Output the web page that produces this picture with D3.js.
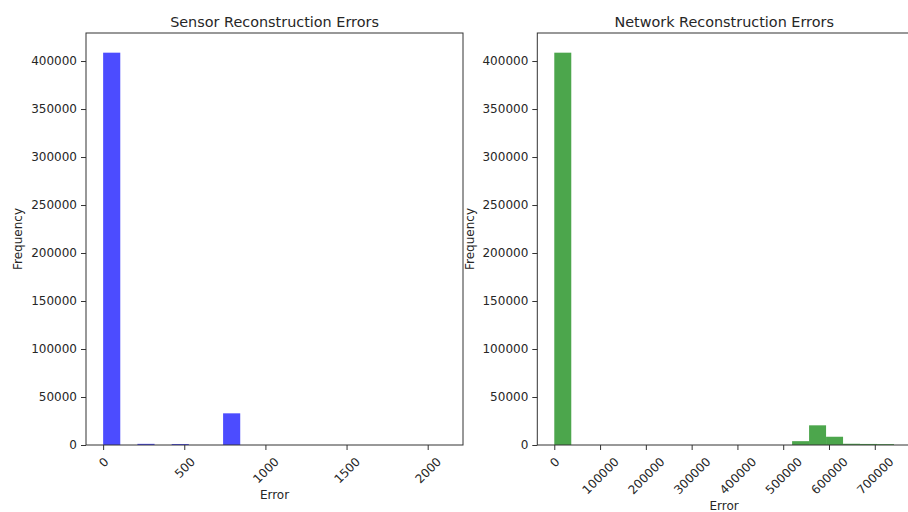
<!DOCTYPE html>
<html><head><meta charset="utf-8">
<script src="https://cdn.jsdelivr.net/npm/d3@7"></script>
<style>body{margin:0;background:#fff;} text{font-family:"DejaVu Sans",sans-serif;fill:#262626;}</style>
</head><body>
<svg id="chart" width="908" height="512"></svg>
<script>
// ---- data ----
const sensorTitle = "Sensor Reconstruction Errors";
const sensorRange = [0, 2112];            // histogram range (20 bins)
const sensorCounts = [408700, 0, 1200, 0, 1000, 0, 0, 33000, 0, 0, 0, 0, 0, 0, 0, 0, 0, 0, 0, 0];
const sensorXTicks = [0, 500, 1000, 1500, 2000];

const networkTitle = "Network Reconstruction Errors";
const networkRange = [0, 742000];
const networkCounts = [408700, 0, 0, 0, 0, 0, 0, 0, 0, 0, 0, 0, 0, 0, 4000, 20500, 8600, 1300, 1100, 900];
const networkXTicks = [0, 100000, 200000, 300000, 400000, 500000, 600000, 700000];

const yTicks = [0, 50000, 100000, 150000, 200000, 250000, 300000, 350000, 400000];
const yMax = 429200;

const svg = d3.select("#chart");

function panel(opt) {
  const {left, right, top, bottom, range, counts, xTicks, color, title} = opt;
  const n = counts.length;
  const w = (range[1] - range[0]) / n;
  const span = range[1] - range[0];
  const x = d3.scaleLinear().domain([range[0] - 0.05 * span, range[1] + 0.05 * span]).range([left, right]);
  const y = d3.scaleLinear().domain([0, yMax]).range([bottom, top]);
  const g = svg.append("g");

  const bins = counts.map((c, i) => ({x0: range[0] + i * w, x1: range[0] + (i + 1) * w, c}));
  g.selectAll("rect.bar").data(bins.filter(d => d.c > 0)).join("rect")
    .attr("class", "bar")
    .attr("x", d => x(d.x0)).attr("width", d => x(d.x1) - x(d.x0))
    .attr("y", d => y(d.c)).attr("height", d => y(0) - y(d.c))
    .attr("fill", color).attr("fill-opacity", 0.7);

  // frame
  g.append("rect").attr("x", left).attr("y", top).attr("width", right - left).attr("height", bottom - top)
    .attr("fill", "none").attr("stroke", "#333").attr("stroke-width", 1);

  // y axis
  const ya = g.append("g").attr("transform", `translate(${left},0)`)
    .call(d3.axisLeft(y).tickValues(yTicks).tickSize(5).tickPadding(4).tickFormat(d3.format("d")));
  ya.select(".domain").remove();
  ya.selectAll("line").attr("stroke", "#333");
  ya.selectAll("text").attr("font-size", 12).attr("fill", "#262626").style("font-family", "DejaVu Sans");

  // x axis
  const xa = g.append("g").attr("transform", `translate(0,${bottom})`)
    .call(d3.axisBottom(x).tickValues(xTicks).tickSize(5).tickFormat(d3.format("d")));
  xa.select(".domain").remove();
  xa.selectAll("line").attr("stroke", "#333");
  xa.selectAll("text").each(function () {
    const t = d3.select(this);
    t.attr("font-size", 12).attr("fill", "#262626").style("font-family", "DejaVu Sans")
     .attr("text-anchor", "middle").attr("dy", "0.35em");
    const tw = this.getComputedTextLength();
    const h = 10;
    const half = (tw + h) / (2 * Math.SQRT2);
    t.attr("y", 0).attr("transform", `translate(0,${11 + half}) rotate(-45)`);
  });

  // titles & labels
  const cx = (left + right) / 2;
  svg.append("text").attr("x", cx).attr("y", top - 6).attr("text-anchor", "middle")
    .attr("font-size", 14.4).text(title);
  svg.append("text").attr("x", cx).attr("y", opt.xlabelY).attr("text-anchor", "middle")
    .attr("font-size", 12).text("Error");
  svg.append("text").attr("transform", `translate(${opt.ylabelX},${(top + bottom) / 2}) rotate(-90)`)
    .attr("text-anchor", "middle").attr("font-size", 12).text("Frequency");
}

panel({left: 86, right: 463, top: 33, bottom: 445, range: sensorRange, counts: sensorCounts,
  xTicks: sensorXTicks, color: "blue", title: sensorTitle, xlabelY: 499, ylabelX: 22});
panel({left: 537.3, right: 911, top: 33, bottom: 445, range: networkRange, counts: networkCounts,
  xTicks: networkXTicks, color: "green", title: networkTitle, xlabelY: 510, ylabelX: 474});
</script>
</body></html>
